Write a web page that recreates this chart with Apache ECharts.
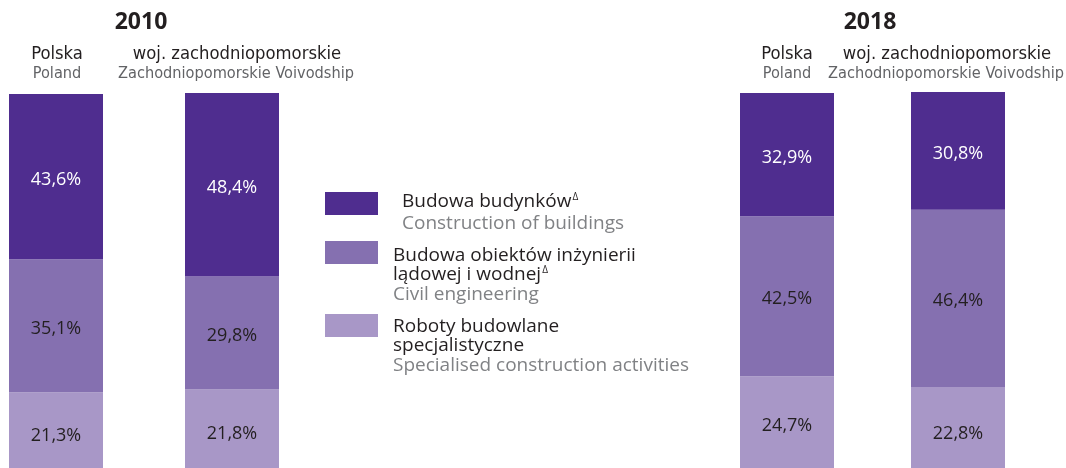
<!DOCTYPE html>
<html><head><meta charset="utf-8">
<script src="https://cdn.jsdelivr.net/npm/echarts@6/dist/echarts.min.js"></script>
<style>html,body{margin:0;padding:0;background:#fff}#c{width:1066px;height:468px}</style>
</head><body><div id="c"></div>
<script>
// ---- data ----
const bars = ['Polska 2010', 'woj. zachodniopomorskie 2010', 'Polska 2018', 'woj. zachodniopomorskie 2018'];
const buildings = [43.6, 48.4, 32.9, 30.8];
const civil = [35.1, 29.8, 42.5, 46.4];
const specialised = [21.3, 21.8, 24.7, 22.8];
const seriesNames = ['Budowa budynków', 'Budowa obiektów inżynierii lądowej i wodnej', 'Roboty budowlane specjalistyczne'];
const years = ['2010', '2018'];
const headPl = ['Polska', 'woj. zachodniopomorskie', 'Polska', 'woj. zachodniopomorskie'];
const headEn = ['Poland', 'Zachodniopomorskie Voivodship', 'Poland', 'Zachodniopomorskie Voivodship'];

// ---- layout ----
const colors = ['#4f2d8f', '#8570b0', '#a897c7'];
const gridLeft = [9, 185, 740, 911];
const gridTop = [94, 93, 93, 92];
const gridH = [379, 379, 376, 382];
const barW = 94;
const headCx = [57, 237, 787, 947];
const yearCx = [141, 870];
const BODY = "'Open Sans', 'Noto Sans', sans-serif";
const COND = "'Liberation Sans Narrow', 'DejaVu Sans Condensed', Roboto, sans-serif";
const dark = '#231f20';

const grids = [], xAxes = [], yAxes = [], series = [];
const values = [specialised, civil, buildings];
const segColors = [colors[2], colors[1], colors[0]];
const segNames = [seriesNames[2], seriesNames[1], seriesNames[0]];
bars.forEach((b, i) => {
  grids.push({ left: gridLeft[i], top: gridTop[i], width: barW, height: gridH[i], outerBoundsMode: 'none', containLabel: false });
  xAxes.push({ type: 'category', gridIndex: i, data: [b], show: false });
  yAxes.push({ type: 'value', gridIndex: i, min: 0, max: 100, show: false });
  values.forEach((arr, s) => {
    series.push({
      type: 'bar', name: segNames[s], stack: 'g' + i,
      xAxisIndex: i, yAxisIndex: i, barWidth: '100%',
      itemStyle: { color: segColors[s] },
      silent: true,
      label: {
        show: true, position: 'inside', offset: [0, 3],
        formatter: p => p.value.toFixed(1).replace('.', ',') + '%',
        color: s === 2 ? '#ffffff' : dark,
        fontFamily: BODY, fontSize: 18
      },
      data: [arr[i]]
    });
  });
});

const FS = 19;
const rich = {
  pl: { fontFamily: BODY, fontSize: FS, color: dark, lineHeight: 19 },
  sup: { fontFamily: BODY, fontSize: 10, color: dark, lineHeight: 19, verticalAlign: 'top', padding: [0, 0, 7, 1] },
  en: { fontFamily: BODY, fontSize: FS, color: '#808285', lineHeight: 22 },
  en1: { fontFamily: BODY, fontSize: FS, color: '#808285', lineHeight: 24 }
};
const legendText = [
  '{pl|Budowa budynków}{sup|Δ}\n{en1|Construction of buildings}',
  '{pl|Budowa obiektów inżynierii}\n{pl|lądowej i wodnej}{sup|Δ}\n{en|Civil engineering}',
  '{pl|Roboty budowlane}\n{pl|specjalistyczne}\n{en|Specialised construction activities}'
];
const legendTop = [192, 241, 314];
const legendPad = [[21, 0, 0, 19], [47, 0, 0, 10], [43, 0, 0, 10]];
const legends = seriesNames.map((n, k) => ({
  data: [n], left: 325, top: legendTop[k], padding: 0,
  itemWidth: 53, itemHeight: 23, icon: 'rect', selectedMode: false,
  formatter: () => legendText[k],
  textStyle: { rich: rich, padding: legendPad[k] }
}));

const graphics = [];
years.forEach((y, k) => graphics.push({
  type: 'text', x: yearCx[k], y: 22,
  style: { text: y, fontFamily: BODY, fontWeight: 'bold', fontSize: 23, fill: dark, align: 'center', verticalAlign: 'middle' }
}));
headPl.forEach((t, i) => {
  graphics.push({ type: 'text', x: headCx[i], y: 54,
    style: { text: t, fontFamily: COND, fontSize: 18.3, fill: dark, align: 'center', verticalAlign: 'middle' } });
  graphics.push({ type: 'text', x: headCx[i] - (i % 2 ? 1 : 0), y: 74,
    style: { text: headEn[i], fontFamily: COND, fontSize: 16.2, fill: '#626366', align: 'center', verticalAlign: 'middle' } });
});

const chart = echarts.init(document.getElementById('c'), null, { renderer: 'canvas' });
chart.setOption({
  animation: false,
  backgroundColor: '#ffffff',
  grid: grids, xAxis: xAxes, yAxis: yAxes,
  legend: legends,
  series: series,
  graphic: graphics
});
</script></body></html>
